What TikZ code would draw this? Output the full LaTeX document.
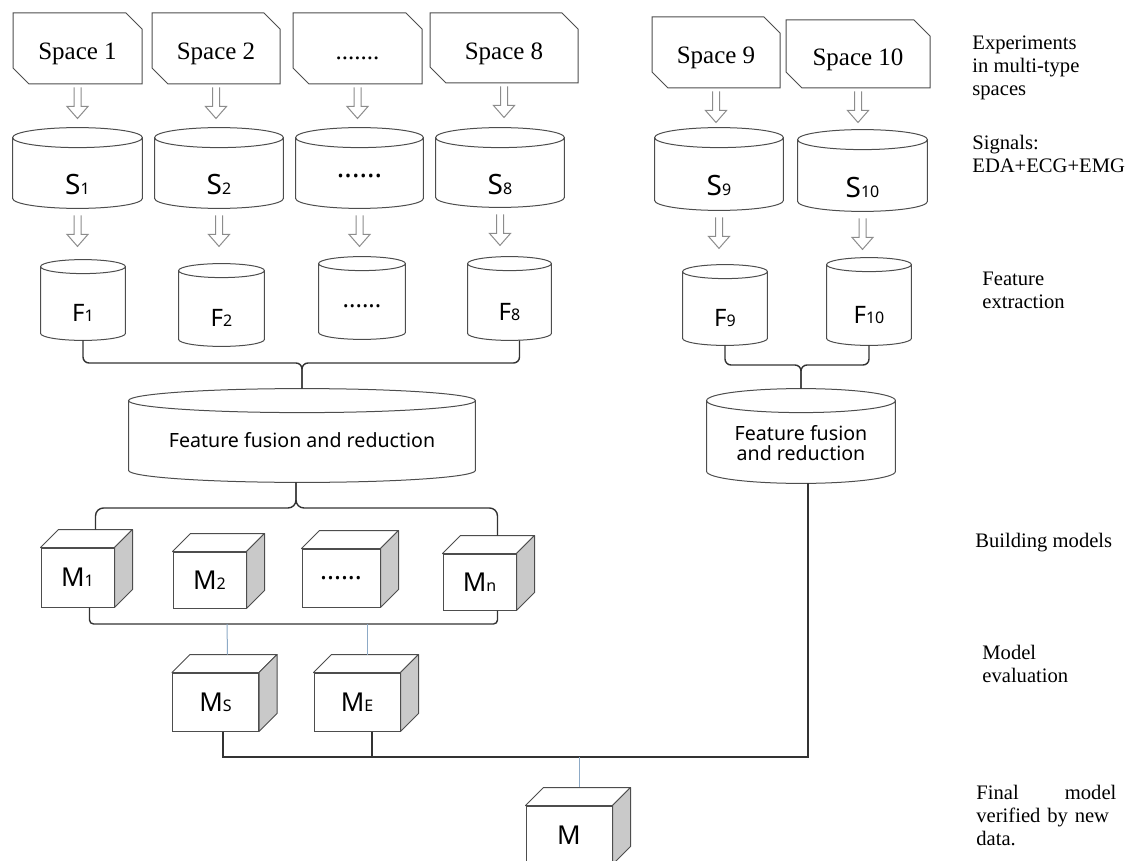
\documentclass[tikz,border=0pt]{standalone}
\usepackage{fontspec}
\setmainfont{Liberation Serif}
\setsansfont{Noto Sans}
\usetikzlibrary{shapes.misc,calc}

\definecolor{edge}{HTML}{4D4D4D}
\definecolor{sidegray}{HTML}{C9C9C9}
\definecolor{linkblue}{HTML}{8DAAC6}

% label with a small index
\newcommand\subtxt[2]{#1{\fontsize{8}{9}\selectfont #2}}

% outline of a drum round a named node
\newcommand\drum[2]{%
  \draw[drumline] let \p1=(#1.north west), \p2=(#1.south east), \n1={0.5*(\x2-\x1)} in
    (\x1,{\y1-#2}) -- (\x1,{\y2+#2})
    arc[start angle=180, end angle=360, x radius={\n1*1pt}, y radius=#2]
    -- (\x2,{\y1-#2})
    ({\x1+\n1*1pt},{\y1-#2}) ellipse[x radius={\n1*1pt}, y radius=#2];}

% top and side faces of a box
\newcommand\cubefaces[1]{%
  \draw[cubeline, fill=white] (#1.north west) -- ++(18,-18) -- ([shift={(18,-18)}]#1.north east) -- (#1.north east) -- cycle;
  \draw[cubeline, fill=sidegray] (#1.north east) -- ++(18,-18) -- ([shift={(18,-18)}]#1.south east) -- (#1.south east) -- cycle;}

% hollow arrow below a node
\newcommand\hollow[2]{%
  \draw[hollowline] ([shift={(-1.75pt,-#2)}]#1.south) -- ++(0,-9.5pt) -- ++(-3.5pt,0)
    -- ([yshift={-#2-15.5pt}]#1.south) -- ++(5.25pt,6pt) -- ++(-3.5pt,0) -- ++(0,9.5pt);}

\tikzset{
  dims/.style 2 args={minimum width={#1*0.5pt}, minimum height={#2*0.5pt}},
  sink/.style={text height=#1, text depth=0pt},
  spacebox/.style={chamfered rectangle, chamfered rectangle corners={north east,south west},
    chamfered rectangle xsep=4pt, chamfered rectangle ysep=4pt, draw=edge, line width=0.5pt,
    inner sep=0pt, font=\fontsize{12.5}{14}\selectfont, sink=11.4pt},
  drumnode/.style={inner sep=0pt, font=\sffamily\fontsize{14}{16}\selectfont},
  featnode/.style={inner sep=0pt, font=\sffamily\fontsize{12}{14}\selectfont},
  fusenode/.style={inner sep=0pt, font=\sffamily\fontsize{9.8}{10}\selectfont},
  drumline/.style={draw=edge, line width=0.5pt},
  cubenode/.style={draw=edge, line width=0.5pt, inner sep=0pt, font=\sffamily\fontsize{13}{15}\selectfont},
  cubeline/.style={draw=edge, line width=0.5pt, line join=round},
  hollowline/.style={draw=black!45, line width=0.5pt},
  bracket/.style={draw=black!80, line width=0.7pt},
  link/.style={draw=linkblue, line width=0.5pt},
  note/.style={inner sep=0pt, align=left, font=\fontsize{10.3}{11.5}\selectfont}
}

\begin{document}
\begin{tikzpicture}[x=0.5pt, y=-0.5pt]
  \useasboundingbox (0,0) rectangle (1134,861);

  % Experimente in den Raeumen
  \node[spacebox, dims={129}{71}] (sp1) at (77.5,48.5) {Space 1};
  \node[spacebox, dims={128}{71}] (sp2) at (216,48.5) {Space 2};
  \node[spacebox, dims={129}{71}] (spd) at (357.5,48.5) {.......};
  \node[spacebox, dims={148}{70}] (sp8) at (504,48) {Space 8};
  \node[spacebox, dims={128}{71}] (sp9) at (716,52.5) {Space 9};
  \node[spacebox, dims={144}{68}] (sp10) at (858,54) {Space 10};

  % Signale
  \node[drumnode, dims={129}{80}, sink=27pt] (s1) at (77.5,168) {\subtxt{S}{1}};
  \node[drumnode, dims={128}{80}, sink=27pt] (s2) at (219,168) {\subtxt{S}{2}};
  \node[drumnode, dims={127}{80}, sink=10pt] (sd) at (359.5,168) {......};
  \node[drumnode, dims={128}{79}, sink=27pt] (s8) at (500,167.5) {\subtxt{S}{8}};
  \node[drumnode, dims={128}{82}, sink=27pt] (s9) at (719,169) {\subtxt{S}{9}};
  \node[drumnode, dims={129}{81}, sink=27pt] (s10) at (862.5,170.5) {\subtxt{S}{10}};

  % Merkmale
  \node[featnode, dims={84}{80}, sink=21.6pt] (f1) at (83,300) {\subtxt{F}{1}};
  \node[featnode, dims={85}{82}, sink=21.6pt] (f2) at (221.5,305) {\subtxt{F}{2}};
  \node[featnode, dims={86}{82}, sink=9pt] (fd) at (362,298) {......};
  \node[featnode, dims={83}{83}, sink=21.6pt] (f8) at (509.5,298.5) {\subtxt{F}{8}};
  \node[featnode, dims={84}{80}, sink=21.6pt] (f9) at (725,305) {\subtxt{F}{9}};
  \node[featnode, dims={84}{87}, sink=21.6pt] (f10) at (869,301.5) {\subtxt{F}{10}};

  % Fusion
  \node[fusenode, dims={346}{93}, sink=12pt] (fu) at (302,435.5) {Feature fusion and reduction};
  \node[fusenode, dims={188}{94}, align=center, sink=24pt] (fu2) at (801,436) {Feature fusion\\and reduction};

  \foreach \nd in {s1,s2,sd,s8,s9,s10} {\drum{\nd}{5pt}}
  \foreach \nd in {f1,f2,fd,f8,f9,f10} {\drum{\nd}{3.5pt}}
  \drum{fu}{6pt}
  \drum{fu2}{6pt}

  % Pfeile
  \foreach \nd in {sp1,sp2,spd,sp8,sp9,sp10} {\hollow{\nd}{1.5pt}}
  \foreach \nd in {s1,s2,sd,s8,s9,s10} {\hollow{\nd}{3.5pt}}

  % Modelle
  \node[cubenode, dims={73}{59}] (m1) at (77.5,577.5) {\subtxt{M}{1}};
  \node[cubenode, dims={73}{56}] (m2) at (209.5,580) {\subtxt{M}{2}};
  \node[cubenode, dims={78}{58}] (md) at (341,578) {......};
  \node[cubenode, dims={73}{56}] (mn) at (479.5,582) {\subtxt{M}{n}};
  \node[cubenode, dims={86}{58}] (ms) at (215.5,702) {\subtxt{M}{S}};
  \node[cubenode, dims={86}{58}] (me) at (357,702) {\subtxt{M}{E}};
  \node[cubenode, dims={86}{58}] (mm) at (569,835) {M};
  \foreach \nd in {m1,m2,md,mn,ms,me,mm} {\cubefaces{\nd}}

  % Klammern
  \coordinate (k1) at (302,363);
  \coordinate (k2) at (801,365);
  \coordinate (k3) at (296,508);
  \coordinate (k4) at (227,624);
  \coordinate (k5) at (367,624);
  \coordinate (k6) at (579,757);
  \coordinate (me1) at ([xshift=7.5pt]me.south);
  \draw[bracket, rounded corners=3pt] (f1.south) |- (k1) -- (fu.north);
  \draw[bracket, rounded corners=3pt] ([xshift=5pt]f8.south) |- (k1) -- (fu.north);
  \draw[bracket, rounded corners=3pt] (f9.south) |- (k2) -- (fu2.north);
  \draw[bracket, rounded corners=3pt] (f10.south) |- (k2) -- (fu2.north);
  \draw[bracket, rounded corners=4pt] ([shift={(18,-18)}]m1.north) |- (k3) -- (k3 |- fu.south);
  \draw[bracket, rounded corners=4pt] ([shift={(18,-18)}]mn.north) |- (k3) -- (k3 |- fu.south);
  \draw[bracket, rounded corners=2pt] ([xshift=6pt]m1.south) |- (k4) -| ([xshift=9pt]mn.south);
  \draw[link] (k4) -- ([shift={(12,-18)}]ms.north);
  \draw[link] (k5) -- ([shift={(10,-18)}]me.north);
  \draw[bracket] ([xshift=3.75pt]ms.south) |- (k6) -| ([xshift=3.5pt]fu2.south);
  \draw[bracket] (me1) -- (me1 |- k6);
  \draw[link] (k6) -- ([shift={(10,-19)}]mm.north);

  % Beschriftung rechts
  \node[note, anchor=north west] (t1) at (972,35) {Experiments\\in multi-type\\spaces};
  \node[note, anchor=north west] (t2) at (972,135) {Signals:\\EDA+ECG+EMG};
  \node[note, anchor=north west] (t3) at (982,272) {Feature\\extraction};
  \node[note, anchor=north west] (t4) at (975,533) {Building models};
  \node[note, anchor=north west] (t5) at (982,645) {Model\\evaluation};
  \node[note, anchor=north west, text width=70pt] (t6) at (976,785) {Final\hfill model\\verified by new\\data.};
\end{tikzpicture}
\end{document}
